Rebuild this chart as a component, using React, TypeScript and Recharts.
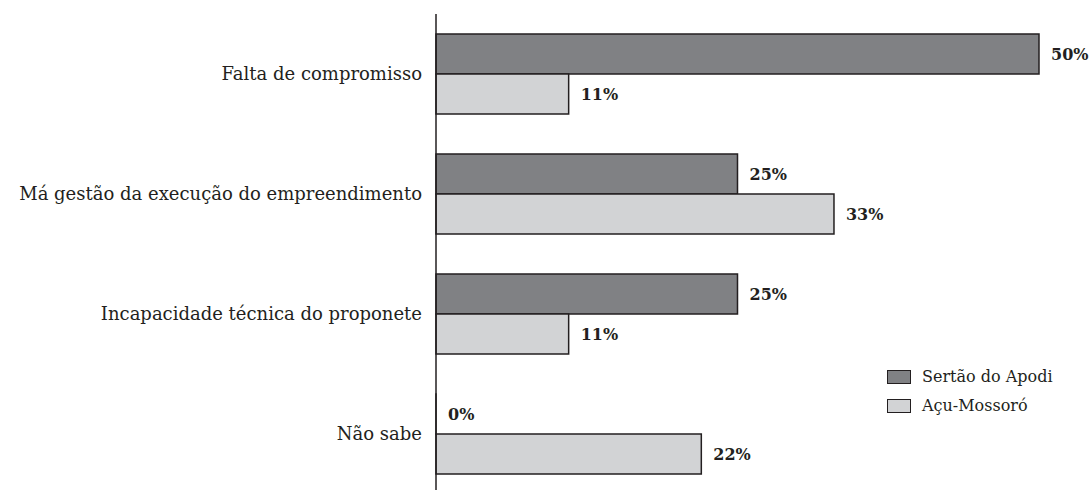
import { Bar, BarChart, LabelList, Legend, XAxis, YAxis } from 'recharts'

// categorias e valores (%)
const categorias = ['Falta de compromisso', 'Má gestão da execução do empreendimento', 'Incapacidade técnica do proponete', 'Não sabe']
const sertaoApodi = [50, 25, 25, 0]
const acuMossoro = [11, 33, 11, 22]

const series = [
  { key: 'sertao', nome: 'Sertão do Apodi', cor: '#808184' },
  { key: 'acu', nome: 'Açu-Mossoró', cor: '#d2d3d5' },
]

const dados = categorias.map((c, i) => ({ categoria: c, sertao: sertaoApodi[i], acu: acuMossoro[i] }))

const fonte = '"DejaVu Serif", serif'
const traco = '#231f20'

// legenda no canto inferior direito, retângulos com borda
function Legenda() {
  return (
    <div style={{ fontFamily: fonte, fontSize: 16, color: '#231f20' }}>
      {series.map(s => (
        <div key={s.key} style={{ display: 'flex', alignItems: 'center', height: 29 }}>
          <span style={{ boxSizing: 'border-box', width: 24, height: 14, background: s.cor, border: `1.5px solid ${traco}`, marginRight: 11 }} />
          {s.nome}
        </div>
      ))}
    </div>
  )
}

// rótulo de valor à direita da barra
function Rotulo(props: any) {
  const { x, y, width, height, value } = props
  return (
    <text x={Number(x) + Number(width) + 12} y={Number(y) + Number(height) / 2} dy="0.35em" fontFamily={fonte} fontSize={16} fontWeight="bold" fill="#231f20">
      {`${value}%`}
    </text>
  )
}

// barra de 0% some no recharts 3 (e leva o rótulo junto); largura mínima quase nula mantém o "0%"
const minimo = (v: any) => (v === 0 ? 0.01 : 0)

export default function App() {
  return (
    <div style={{ position: 'absolute', left: 0, top: 0, width: 1092, height: 490, overflow: 'hidden', background: '#fff' }}>
      <BarChart
        width={1092}
        height={494}
        data={dados}
        layout="vertical"
        margin={{ top: 14, right: 53, bottom: 0, left: 0 }}
        barCategoryGap={20}
        barGap={0}
      >
        <XAxis type="number" domain={[0, 50]} hide />
        <YAxis
          type="category"
          dataKey="categoria"
          width={436}
          tickLine={false}
          tickSize={0}
          tickMargin={14}
          axisLine={{ stroke: traco, strokeWidth: 1.5 }}
          tick={{ fontFamily: fonte, fontSize: 18, fill: '#231f20' }}
          interval={0}
        />
        <Legend
          content={<Legenda />}
          layout="vertical"
          align="center"
          verticalAlign="middle"
          wrapperStyle={{ position: 'absolute', left: 887, top: 362, width: 200 }}
        />
        {series.map(s => (
          <Bar key={s.key} dataKey={s.key} name={s.nome} fill={s.cor} stroke={traco} strokeWidth={1.5} barSize={40} minPointSize={minimo} isAnimationActive={false}>
            <LabelList dataKey={s.key} content={<Rotulo />} />
          </Bar>
        ))}
      </BarChart>
    </div>
  )
}
